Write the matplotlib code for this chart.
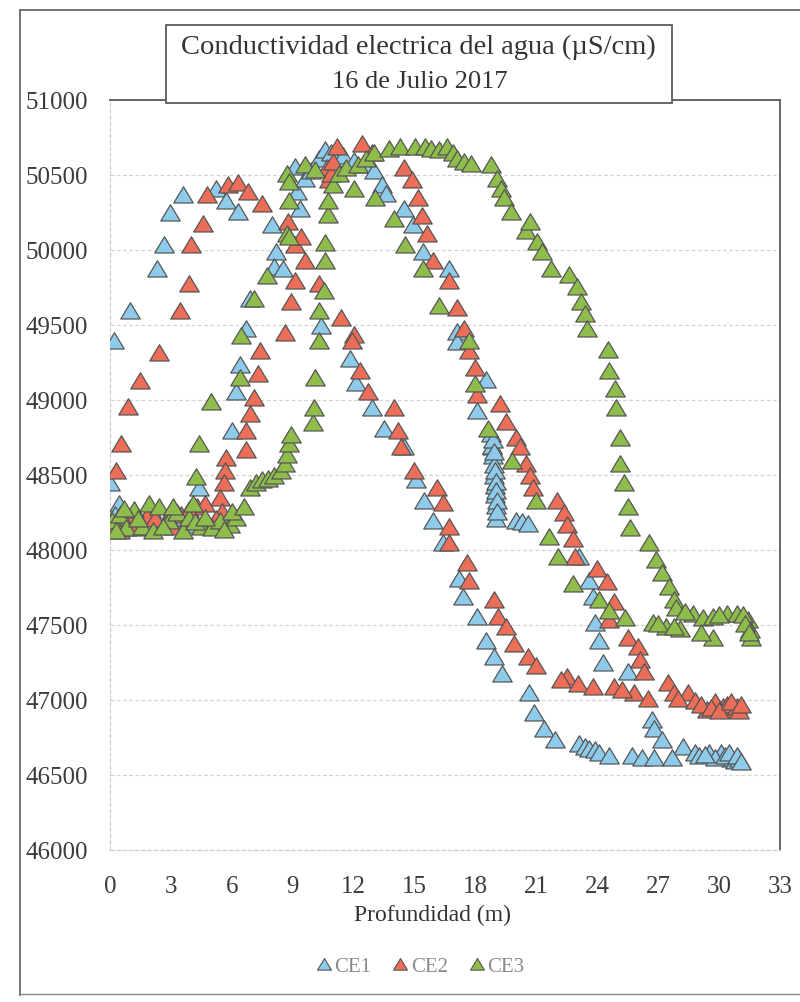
import matplotlib
matplotlib.use("Agg")
import matplotlib.pyplot as plt
from matplotlib.patches import Rectangle
from matplotlib.lines import Line2D
from matplotlib.path import Path

plt.rcParams['font.family'] = ['Liberation Serif', 'DejaVu Serif']

# ---------------- data (depth m, conductivity uS/cm) ----------------
ce1_depth = [0.0, 0.45, 0.25, 0.2, 1.0, 2.3, 2.65, 2.95, 3.6, 5.2, 5.7, 6.3, 8.0, 8.2, 8.1, 8.5,
             6.9, 6.7, 6.4, 6.2, 6.0, 4.4, 1.2, 2.0, 2.8, 3.5, 0.6, 1.5, 3.0, 3.9,
             9.1, 9.2, 9.35, 9.6, 9.9, 10.3, 10.6, 10.9, 11.5, 12.0, 12.5,
             13.0, 13.4, 13.6, 14.5, 14.9, 15.4, 16.7, 17.1, 17.1, 18.5, 18.1, 18.8,
             18.75, 18.8, 18.85, 18.9, 18.9, 18.95, 18.95, 19.0, 19.0,
             18.85, 18.9, 18.95, 19.0, 19.0, 19.05, 19.05,
             20.0, 20.3, 20.6, 23.1, 23.6, 23.8, 23.9, 24.1, 24.3, 25.5,
             26.7, 26.8, 27.2, 28.2, 28.8, 29.5, 30.1, 30.6, 29.0, 29.8, 30.3, 30.8, 31.0,
             29.3, 30.5, 30.9, 31.1,
             10.4, 11.8, 12.1, 12.9, 13.5, 14.5, 15.05, 15.45, 15.9, 16.4, 17.2, 17.4, 18.1,
             18.5, 18.9, 19.3, 20.65, 20.9, 21.4, 21.9, 23.1, 23.4, 23.6, 23.9, 24.1, 24.6,
             25.7, 26.2, 26.8, 27.7]
ce1_value = [48440, 48300, 48230, 49390, 49590, 49870, 50030, 50240, 50360, 50400, 50320, 50250, 50160, 49980, 49880, 49870,
             49670, 49470, 49230, 49050, 48790, 48410, 48210, 48260, 48170, 48200, 48180, 48150, 48250, 48160,
             50550, 50380, 50270, 50470, 50520, 50600, 50660, 50640, 50620, 50590, 50560,
             50520, 50430, 50370, 50270, 50160, 49980, 49870, 49450, 49380, 49130, 48920, 48680,
             48770, 48690, 48620, 48560, 48490, 48420, 48360, 48290, 48200,
             48730, 48650, 48520, 48450, 48390, 48320, 48250,
             48190, 48180, 48170, 47950, 47790, 47680, 47510, 47390, 47240, 47180,
             46860, 46800, 46730, 46680, 46640, 46640, 46640, 46600, 46620, 46610, 46620, 46590, 46600,
             46630, 46640, 46620, 46580,
             49490, 49270, 49110, 48940, 48800, 48680, 48460, 48320, 48190, 48040, 47800, 47680, 47550,
             47390, 47280, 47170, 47040, 46910, 46800, 46730, 46700, 46680, 46670, 46660, 46640, 46620,
             46620, 46610, 46610, 46610]

ce2_depth = [0.1, 0.3, 0.55, 0.9, 1.5, 2.4, 3.45, 3.9, 4.0, 4.6, 4.8, 5.8, 6.3, 6.8, 7.5, 8.75,
             9.1, 9.4, 9.6, 9.1, 8.9, 8.6, 10.3, 7.4, 7.3, 7.1, 6.9, 6.7, 6.7, 5.7, 5.65, 5.6, 5.4, 4.3,
             1.0, 1.8, 2.7, 3.5, 5.5, 0.5, 1.3, 2.2, 3.1, 3.9, 4.7, 5.2,
             10.7, 10.8, 10.9, 11.0, 11.2, 12.4, 12.9,
             14.5, 14.85, 15.15, 15.35, 15.6, 15.9, 16.7, 17.1, 17.45, 17.7, 18.0, 18.1, 19.2, 19.5,
             20.0, 20.2, 20.5, 20.7, 20.85, 22.0, 22.35, 22.5, 22.8, 22.9, 24.0, 24.5, 24.8, 24.6,
             25.5, 26.0, 26.1, 26.3, 27.5, 27.8, 28.45, 29.4, 30.2, 30.7, 28.0, 28.8, 29.1, 29.8, 30.4, 30.9,
             29.6, 30.0, 30.6, 31.0, 31.1,
             11.4, 12.0, 11.9, 12.3, 12.7, 14.0, 14.2, 14.35, 14.95, 16.1, 16.4, 16.7, 16.7, 17.6, 17.7,
             18.9, 19.1, 19.5, 19.9, 20.6, 21.0, 22.5, 23.05, 23.8, 24.8, 25.8, 26.5, 22.2, 25.2]
ce2_value = [48150, 48520, 48700, 48950, 49120, 49310, 49590, 49770, 50030, 50170, 50360, 50430, 50440, 50380, 50300, 50180,
             50030, 50080, 49920, 49790, 49650, 49440, 49770, 49320, 49170, 49010, 48900, 48790, 48660, 48610, 48520, 48440, 48340, 48280,
             48180, 48220, 48170, 48230, 48250, 48120, 48140, 48200, 48150, 48260, 48300, 48200,
             50540, 50460, 50500, 50580, 50680, 50700, 50640,
             50540, 50460, 50340, 50220, 50100, 49920, 49790, 49610, 49470, 49320, 49210, 49030, 48970, 48850,
             48740, 48680, 48570, 48490, 48410, 48320, 48240, 48160, 48070, 47950, 47870, 47780, 47650, 47530,
             47410, 47350, 47260, 47180, 47110, 47040, 47040, 46930, 46950, 46930, 47000, 46990, 46960, 46980, 46960, 46950,
             46940, 46920, 46980, 46920, 46960,
             49540, 49430, 49390, 49190, 49050, 48940, 48790, 48680, 48520, 48410, 48310, 48150, 48040, 47910, 47790,
             47660, 47550, 47480, 47370, 47280, 47220, 47150, 47100, 47080, 47080, 47040, 47000, 47130, 47060]

ce3_depth = [0.1, 0.5, 0.8, 1.2, 1.6, 1.9, 2.1, 2.4, 2.9, 3.3, 3.6, 3.9, 4.5, 5.0, 5.4, 5.9, 6.2,
             0.3, 0.7, 1.4, 2.6, 3.1, 4.2, 4.7, 5.6, 6.0,
             4.1, 4.25, 4.4, 4.95, 6.4, 6.45, 7.1, 7.75, 8.7, 8.8, 8.7, 8.8, 8.8, 9.6, 10.1,
             6.6, 6.9, 7.2, 7.5, 7.8, 8.1, 8.4, 8.6, 8.7, 8.8, 8.9,
             10.0, 10.05, 10.1, 10.3, 10.3, 10.55, 10.6, 10.6, 10.75, 10.75, 11.0, 11.3, 11.6, 12.0, 12.2,
             12.6, 13.0, 13.75, 14.3, 15.0, 15.5, 15.8, 16.2,
             13.05, 14.0, 14.55, 15.4, 16.2, 17.7, 18.0, 18.6, 19.8, 21.0, 21.6, 22.05, 22.8, 24.1, 24.6, 25.35,
             16.6, 16.9, 17.1, 17.45, 17.8, 18.75, 19.05, 19.25, 19.4, 19.75, 20.5, 20.7, 21.05, 21.3, 21.7,
             22.6, 23.0, 23.2, 23.4, 23.5, 24.55, 24.6, 24.85, 24.9, 25.1, 25.1, 25.3, 25.5, 25.6,
             26.55, 26.9, 27.2, 27.55, 27.8, 27.9,
             26.75, 27.4, 28.05, 28.7, 29.2, 29.7, 30.4, 30.9, 31.4, 31.55, 29.7, 29.1, 27.0, 27.8,
             28.3, 30.0, 31.2, 31.5, 31.3, 31.45]
ce3_value = [48190, 48230, 48140, 48260, 48150, 48300, 48120, 48280, 48190, 48240, 48120, 48210, 48150, 48140, 48190, 48160, 48210,
             48120, 48270, 48200, 48150, 48280, 48180, 48210, 48130, 48250,
             48300, 48480, 48700, 48980, 49140, 49420, 49670, 49820, 50100, 50320, 50500, 50450, 50080, 50560, 50530,
             48280, 48410, 48440, 48460, 48470, 48490, 48520, 48570, 48630, 48700, 48760,
             48840, 48940, 49140, 49390, 49590, 49720, 49920, 50040, 50230, 50320, 50430, 50500, 50540, 50400, 50560,
             50600, 50640, 50670, 50680, 50680, 50680, 50670, 50660,
             50340, 50200, 50030, 49870, 49620, 49390, 49100, 48800, 48590, 48320, 48080, 47950, 47770, 47660, 47590, 47540,
             50680, 50640, 50600, 50580, 50570, 50560, 50470, 50400, 50340, 50250, 50120, 50180, 50050, 49980, 49870,
             49830, 49750, 49650, 49570, 49470, 49330, 49190, 49070, 48940, 48740, 48570, 48440, 48280, 48140,
             48040, 47930, 47840, 47750, 47660, 47610,
             47510, 47480, 47470, 47570, 47540, 47550, 47570, 47570, 47530, 47410, 47410, 47440, 47500, 47480,
             47580, 47560, 47560, 47460, 47500, 47440]

series_names = ['CE1', 'CE2', 'CE3']
series_colors = ['#8ecbea', '#ec6e58', '#8fbd4c']
x_ticks = list(range(0, 34, 3))
y_ticks = list(range(46000, 51001, 500))
title_lines = ['Conductividad electrica del agua (\u00b5S/cm)', '16 de Julio 2017']
x_label = 'Profundidad (m)'

# ---------------- figure ----------------
W, H = 800, 1002
fig = plt.figure(figsize=(W / 100, H / 100), dpi=100)
fig.patch.set_facecolor('white')

def fx(px):
    return px / W

def fy(py):
    return 1 - py / H

ax = fig.add_axes([fx(110), fy(850), (780 - 110) / W, (850 - 100) / H])

tri = Path([(0, 0.6), (-0.6, -0.4), (0.6, -0.4), (0, 0.6)],
           [Path.MOVETO, Path.LINETO, Path.LINETO, Path.CLOSEPOLY])

data = [(ce1_depth, ce1_value), (ce2_depth, ce2_value), (ce3_depth, ce3_value)]
for (xs, ys), name, col in zip(data, series_names, series_colors):
    ax.plot(xs, ys, linestyle='none', marker=tri, markersize=14,
            markerfacecolor=col, markeredgecolor='#555555', markeredgewidth=0.9,
            label=name, zorder=3)

ax.set_xlim(0, 33)
ax.set_ylim(46000, 51000)
ax.set_xticks(x_ticks)
ax.set_yticks(y_ticks)
ax.tick_params(length=0, labelsize=18, labelcolor='#3c3c3c')
ax.tick_params(axis='y', pad=16)
ax.tick_params(axis='x', pad=19)
ax.grid(axis='y', color='#d4d4d4', linestyle=(0, (3, 2)), linewidth=0.9, zorder=0)
ax.set_axisbelow(True)
for side in ['top', 'right']:
    ax.spines[side].set_color('#5a5a5a')
    ax.spines[side].set_linewidth(1.3)
for side in ['left', 'bottom']:
    ax.spines[side].set_color('#cfcfcf')
    ax.spines[side].set_linestyle((0, (3, 2)))
    ax.spines[side].set_linewidth(0.9)

# title box
fig.add_artist(Rectangle((fx(166), fy(103)), (672 - 166) / W, (103 - 25) / H,
                         transform=fig.transFigure, facecolor='white',
                         edgecolor='#5a5a5a', linewidth=1.3, zorder=5))
fig.text(fx(418), fy(47), title_lines[0], ha='center', va='center', fontsize=20.5,
         color='#333333', zorder=6)
fig.text(fx(420), fy(82), title_lines[1], ha='center', va='center', fontsize=19,
         color='#333333', zorder=6)

# x label
fig.text(fx(432), fy(915), x_label, ha='center', va='center', fontsize=17, color='#333333')

# legend
handles = [Line2D([], [], linestyle='none', marker=tri, markersize=10, markerfacecolor=c,
                  markeredgecolor='#555555', markeredgewidth=0.8) for c in series_colors]
fig.legend(handles, series_names, loc='center', bbox_to_anchor=(fx(420), fy(967)), ncol=3,
           frameon=False, fontsize=15, labelcolor='#8a8a8a', handlelength=0.8,
           handletextpad=0.1, columnspacing=1.0)

# outer frame
fig.add_artist(Line2D([fx(20), fx(20)], [fy(10), fy(995)], transform=fig.transFigure,
                      color='#6a6a6a', linewidth=1.3))
fig.add_artist(Line2D([fx(20), fx(800)], [fy(10), fy(10)], transform=fig.transFigure,
                      color='#6a6a6a', linewidth=1.3))
fig.add_artist(Line2D([fx(20), fx(800)], [fy(994), fy(994)], transform=fig.transFigure,
                      color='#8a8a8a', linewidth=1.0))

fig.savefig('out.png', dpi=100)
